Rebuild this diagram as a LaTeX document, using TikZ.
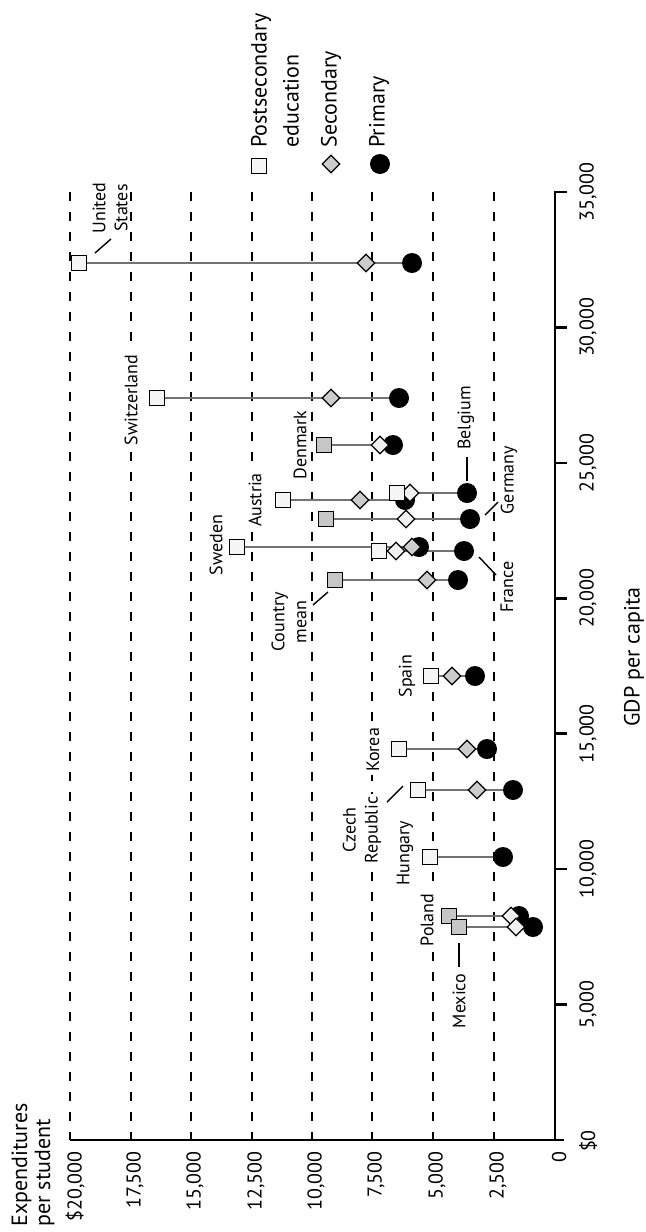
\documentclass[tikz,border=0pt]{standalone}
\usepackage{fontspec}
\setmainfont{PT Sans}
\usetikzlibrary{shapes.geometric,backgrounds}
\newcommand\ctry[7]{%
  \node[cim] (#1-c) at (#5,#2) {};
  \node[#7] (#1-d) at (#4,#2) {};
  \node[#6] (#1-s) at (#3,#2) {};
  \begin{scope}[on background layer]
    \draw[link] (#1-s) -- (#1-c);
  \end{scope}}
\begin{document}
\begin{tikzpicture}[x=0.5pt,y=-0.5pt,
  gridline/.style={line width=0.7pt, dash pattern=on 4.5pt off 5.5pt},
  axisline/.style={line width=1.3pt},
  link/.style={black!55, line width=0.9pt},
  sqm/.style={draw, rectangle, minimum size=7.5pt, inner sep=0pt, line width=0.6pt, fill=gray!8},
  sqg/.style={sqm, fill=gray!45},
  dim/.style={draw, diamond, minimum size=9pt, inner sep=0pt, line width=0.6pt, fill=gray!40},
  diw/.style={dim, fill=gray!12},
  cim/.style={circle, fill=black, minimum size=10pt, inner sep=0pt},
  lab/.style={rotate=90, font=\fontsize{9}{11}\selectfont, fill=white, inner sep=1.5pt, align=center},
  ticklab/.style={rotate=90, font=\fontsize{10}{11}\selectfont, inner sep=0pt},
  titlelab/.style={rotate=90, font=\fontsize{11}{11.5}\selectfont, inner sep=0pt, align=left},
  leglab/.style={rotate=90, font=\fontsize{11}{16}\selectfont, inner sep=0pt, align=left},
  leader/.style={line width=0.7pt}
]
\useasboundingbox (0,0) rectangle (645,1232);

% grid
\begin{scope}[on background layer]
\foreach \gx in {70,131,191,252,312,372,433,494}
  \draw[gridline] (\gx,192) -- (\gx,1140);
\end{scope}

% axes
\draw[axisline] (70,1140) -- (564,1140);
\draw[axisline] (555,1140) -- (555,192) -- (567,192);
\foreach \gy in {327.4,462.9,598.3,733.7,869.1,1004.6}
  \draw[axisline] (555,\gy) -- (567,\gy);

% GDP tick labels
\node[ticklab] (g35) at (588,192) {35,000};
\node[ticklab] (g30) at (588,327.4) {30,000};
\node[ticklab] (g25) at (588,462.9) {25,000};
\node[ticklab] (g20) at (588,598.3) {20,000};
\node[ticklab] (g15) at (588,733.7) {15,000};
\node[ticklab] (g10) at (588,869.1) {10,000};
\node[ticklab] (g5) at (588,1004.6) {5,000};
\node[ticklab] (g0) at (588,1141) {\$0};
\node[titlelab] (gdp) at (634,657) {GDP per capita};

% expenditure tick labels
\node[ticklab,anchor=east] (e20) at (75,1151) {\$20,000};
\node[ticklab,anchor=east] (e17) at (135,1151) {17,500};
\node[ticklab,anchor=east] (e15) at (195,1151) {15,000};
\node[ticklab,anchor=east] (e12) at (256,1151) {12,500};
\node[ticklab,anchor=east] (e10) at (316,1151) {10,000};
\node[ticklab,anchor=east] (e7) at (376,1151) {7,500};
\node[ticklab,anchor=east] (e5) at (437,1151) {5,000};
\node[ticklab,anchor=east] (e2) at (498,1151) {2,500};
\node[ticklab,anchor=east] (e0) at (559,1151) {0};
\node[titlelab,anchor=west] (eps) at (33,1227) {Expenditures\\per student};

% legend
\node[sqm] (lg-s) at (259,166) {};
\node[dim] (lg-d) at (331,164) {};
\node[cim] (lg-c) at (380,164) {};
\node[leglab,anchor=west] (lg-st) at (275,148) {Postsecondary\\education};
\node[leglab,anchor=west] (lg-dt) at (331,148) {Secondary};
\node[leglab,anchor=west] (lg-ct) at (379,148) {Primary};

% data
\ctry{us}{263}{79}{366}{412}{sqm}{dim}
\ctry{ch}{398}{157}{331}{399}{sqm}{dim}
\ctry{dk}{445}{324}{380}{393}{sqg}{diw}
\ctry{at}{500}{283}{360}{405}{sqm}{dim}
\ctry{be}{493}{397}{410}{467}{sqm}{diw}
\ctry{de}{519}{326}{406}{470}{sqg}{diw}
\ctry{se}{547}{237}{412}{419}{sqm}{dim}
\ctry{fr}{551}{379}{396}{464}{sqm}{diw}
\ctry{cm}{580}{335}{427}{458}{sqg}{dim}
\ctry{es}{676}{431}{452}{475}{sqm}{dim}
\ctry{kr}{749}{399}{467}{487}{sqm}{dim}
\ctry{cz}{790}{418}{477}{513}{sqm}{dim}
\node[cim] (hu-c) at (503,857) {};
\node[sqm] (hu-s) at (430,857) {};
\begin{scope}[on background layer]\draw[link] (hu-s) -- (hu-c);\end{scope}
\ctry{pl}{916}{449}{511}{519}{sqg}{diw}
\ctry{mx}{927}{459}{516}{533}{sqg}{diw}

% country labels
\node[lab,fill=none] (us-l) at (110,208) {United\\States};
\node[lab] (ch-l) at (131,400) {Switzerland};
\node[lab] (dk-l) at (300,445) {Denmark};
\node[lab] (at-l) at (255,500) {Austria};
\node[lab] (be-l) at (466,418) {Belgium};
\node[lab] (de-l) at (509,480) {Germany};
\node[lab] (se-l) at (216,545) {Sweden};
\node[lab] (fr-l) at (507,587) {France};
\node[lab] (cm-l) at (289,622) {Country\\mean};
\node[lab] (es-l) at (407,676) {Spain};
\node[lab] (kr-l) at (373,750) {Korea};
\node[lab] (cz-l) at (362,830) {Czech\\Republic};
\node[lab] (hu-l) at (405,853) {Hungary};
\node[lab] (pl-l) at (427,920) {Poland};
\node[lab] (mx-l) at (459,1001) {Mexico};

% leaders
\coordinate (us-a) at (95,253); \coordinate (us-b) at (111,239);
\draw[leader] (us-a) -- (us-b);
\coordinate (be-a) at (467,457); \coordinate (be-b) at (467,481);
\draw[leader] (be-a) -- (be-b);
\coordinate (de-a) at (485,515); \coordinate (de-b) at (498,502);
\draw[leader] (de-a) -- (de-b);
\coordinate (fr-a) at (479,557); \coordinate (fr-b) at (496,575);
\draw[leader] (fr-a) -- (fr-b);
\coordinate (cm-a) at (313,605); \coordinate (cm-b) at (328,592);
\draw[leader] (cm-a) -- (cm-b);
\coordinate (cz-a) at (387,802); \coordinate (cz-b) at (403,786);
\draw[leader] (cz-a) -- (cz-b);
\coordinate (mx-a) at (459,943); \coordinate (mx-b) at (459,967);
\draw[leader] (mx-a) -- (mx-b);
\end{tikzpicture}
\end{document}
